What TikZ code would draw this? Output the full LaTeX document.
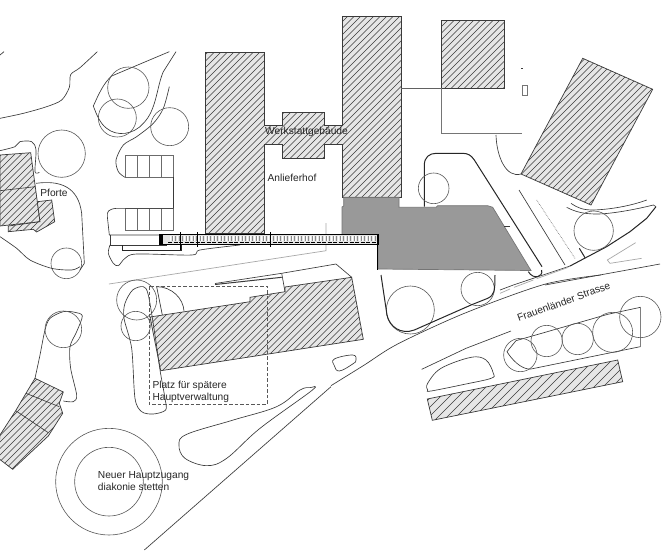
\documentclass[tikz,border=0pt]{standalone}
\usepackage{fontspec}
\setmainfont{Liberation Sans}
\definecolor{hbg}{HTML}{E6E6E6}
\definecolor{ink}{HTML}{3A3A3A}
\definecolor{greyb}{HTML}{999999}
\definecolor{pale}{HTML}{A8A8A8}
\tikzset{
 ln/.style={draw=ink,line width=0.65pt},
 blk/.style={draw=black!85,line width=1pt},
 pl/.style={draw=pale,line width=0.7pt},
 tree/.style={draw=ink!85,line width=0.6pt},
 zA/.style={shift={(0,0)},scale=0.33333},
 zB/.style={shift={(331,0)},scale=0.33333},
 zC/.style={shift={(0,275)},scale=0.33333},
 zD/.style={shift={(331,275)},scale=0.33333},
 zE/.style={shift={(500,190)},scale=0.33333},
 lab/.style={inner sep=0pt,font=\fontsize{10.2}{12}\selectfont,text=black!85},
}
\newcommand{\hatchpoly}[2][6.5]{%
 \begin{scope}
  \clip #2;
  \fill[hbg] (0,0) rectangle (662,550);
  \foreach \i in {0,#1,...,1260}{\draw[draw=ink,line width=0.55pt] (\i,0) -- (\i-620,620);}
 \end{scope}
 \draw[draw=ink,line width=0.7pt] #2;
}
\begin{document}
\begin{tikzpicture}[x=1pt,y=-1pt]
\useasboundingbox[fill=white] (0,0) rectangle (662,550);
% buildings
\hatchpoly{(205,52)--(264,52)--(264,125)--(282,125)--(282,112)--(324,112)--(324,125)--(342,125)--(342,16)--(401,16)--(401,197)--(342,197)--(342,144)--(324,144)--(324,158)--(282,158)--(282,144)--(264,144)--(264,233)--(205,233)--cycle}
\hatchpoly{(441.7,20.7)--(504.3,20.7)--(504.3,88.3)--(441.7,88.3)--cycle}
\hatchpoly{(582.7,58.3)--(652.7,89.3)--(591,205)--(521,174)--cycle}
\hatchpoly{(150,317)--(250,301.7)--(250,297.3)--(285,291.7)--(285,287)--(351.7,277.3)--(363.3,339.3)--(160.7,370.7)--cycle}
\hatchpoly{(0,155)--(30.7,152.7)--(40,221.7)--(0,226)--cycle}
\hatchpoly{(37.3,201.7)--(51.7,200)--(54.7,221.7)--(36.7,232)--(33.3,229.3)--(8.3,231.7)--(8.3,226)--(40,221.7)--cycle}
\hatchpoly[9]{(427.3,399)--(617.7,360)--(622.7,381.7)--(432.3,420.3)--cycle}
\hatchpoly{(35,378.3)--(63.3,392)--(59.3,403.3)--(62.7,413.3)--(48.3,436)--(12.7,469.3)--(-2,458)--(0,435)--(15.7,410.7)--(26,393.3)--cycle}
\draw[ln] (0,190.7)--(35,186.7);
\draw[ln] (26,393.3)--(59.3,406.7);
\draw[ln] (15.7,410.7)--(48.3,432.7);
% grey building
\filldraw[fill=greyb,draw=ink!70,line width=0.7pt] (343.7,197.3)--(399,197.3)--(399,207.3)--(436,207.3)--(437.7,205.7)--(487.7,205.7)--(492.7,207.3)--(531,270.5)--(378,269)--(378,235)--(342,235)--(342,207)--(343.7,206)--cycle;
% north-east lines
\begin{scope}[zB]
 \draw[draw=ink!80,line width=1.1pt] (209,265)--(330,265);
 \draw[draw=ink!70,line width=0.7pt] (330,265)--(330,400)--(572,400);
 \draw[ln] (495,405) .. controls (497,470) and (525,535) .. (570,522);
 \draw[ln,draw=ink!70] (574,255) rectangle (590,285);
 \draw[ln] (571,205)--(575,205);
 \draw[blk] (280,620)--(280,495) .. controls (280,472) and (295,460) .. (315,460)--(395,460) .. controls (410,460) and (420,465) .. (430,480)--(633,800);
 \draw[tree] (308,565) circle (46);
 \draw[ln] (520,680)--(536,680);
\end{scope}
% parking and west roads
\begin{scope}[zA]
 \draw[ln] (0,165)--(12,155);
 \draw[ln] plot[smooth] coordinates {(292,155)(240,203)(212,224)(208,262)(185,300)(140,320)(70,340)(0,355)};
 \draw[ln] (508,155)--(335,228) .. controls (310,250) and (295,285) .. (280,318) .. controls (290,345) and (300,370) .. (320,385) .. controls (350,410) and (400,405) .. (430,370) .. controls (470,330) and (470,260) .. (490,215)--(528,155);
 \draw[ln] plot[smooth] coordinates {(508,260)(490,325)(460,370)(410,410)(370,435)(348,480)(355,515)(375,532)};
 \draw[pl,draw=ink!75] (377,465) rectangle (521,532);
 \draw[pl,draw=ink!75] (377,625) rectangle (521,692);
 \foreach \x in {412,448,484} {\draw[pl,draw=ink!75] (\x,465)--(\x,532);\draw[pl,draw=ink!75] (\x,625)--(\x,692);}
 \draw[ln] (521,532)--(521,625);
 \draw[ln] (521,625)--(350,625) .. controls (325,627) and (320,635) .. (322,650)--(328,705)--(545,705);
 \draw[ln] (330,705)--(330,735)--(500,735);
 \draw[ln] plot[smooth] coordinates {(330,735)(325,760)(340,790)(355,797)(375,775)(410,762)(575,765)(600,750)(720,735)};
 \draw[blk] (367,735)--(367,750)--(545,750)--(545,735);
 % trees
 \draw[tree] (385,263) circle (62);
 \draw[tree] (352,354) circle (57);
 \draw[tree] (509,380) circle (57);
 \draw[tree] (185,461) circle (71);
 \draw[tree] (199,790) circle (46);
 % Pforte roads
 \draw[ln] plot[smooth] coordinates {(0,452)(45,440)(60,425)(95,425)(108,450)(105,515)(118,517)};
 \draw[ln] (108,550) .. controls (180,540) and (235,560) .. (245,640)--(253,790)--(240,810);
 \draw[ln] plot[smooth] coordinates {(0,710)(50,745)(90,780)(155,805)(215,810)(240,800)};
\end{scope}
\draw[pl] (109,284)--(326,250.7)--(326,223);
\draw[ln] (215,283.5)--(281.7,273.3)--(336,264)--(351.7,277.3);
\draw[draw=ink,line width=1pt] (215,284.5)--(281.7,277.3);
\draw[ln] (281.7,273.3)--(285,291.7);
% conveyor
\fill[black!10] (160,234.3) rectangle (378,244.3);
\draw[draw=black,line width=1.3pt] (160,234.3)--(378,234.3)--(378,244.3)--(160,244.3)--cycle;
\draw[draw=black,line width=0.7pt,dash pattern=on 4pt off 1.5pt] (168,242)--(376,242);
\foreach \x in {170,173.5,...,376} {\draw[draw=white,line width=1pt] (\x,236)--(\x,240.5);\draw[draw=ink!60,line width=0.4pt] (\x+1.7,236)--(\x+1.7,240.5);}
\fill[black] (160,234) rectangle (162.5,244.5);
\draw[draw=black,line width=1.1pt] (180.3,232)--(180.3,250);
\draw[draw=black,line width=1.1pt] (197.7,232)--(197.7,247);
\draw[draw=black,line width=1.1pt] (270.3,232)--(270.3,247);
\draw[draw=black,line width=1.1pt] (377.5,245)--(377.5,270);
% south-west
\begin{scope}[zC]
 \draw[ln] plot[smooth] coordinates {(105,310)(120,240)(135,165)(150,130)(190,110)(225,112)(247,123)(230,170)(210,215)(212,280)(230,360)(220,380)(190,378)};
 \draw[tree] (190,163) circle (55);
 \draw[ln] plot[smooth cycle] coordinates {(430,35)(398,45)(375,85)(372,130)(395,220)(405,370)(425,410)(460,417)(497,405)(495,370)(480,285)(465,180)(445,60)};
 \draw[tree] (410,75) circle (60);
 \draw[tree] (407,153) circle (44);
 \draw[ln] (470,35)--(487,120);
 \draw[ln] (470,35) .. controls (515,35) and (550,70) .. (552,108);
 \draw[ln] plot[smooth cycle,tension=0.6] coordinates {(930,338)(900,345)(830,395)(700,435)(560,478)(537,510)(555,550)(620,572)(680,550)(780,460)(936,346)};
 \draw[ln] (433,825)--(993,335);
 \draw[tree] (327,620) circle (160);
 \draw[tree] (327,620) circle (103);
\end{scope}
\draw[draw=ink!85,line width=0.7pt,dash pattern=on 3.5pt off 2pt] (149,286) rectangle (267,404);
% south-east
\begin{scope}[zD]
 \draw[ln] plot[smooth cycle,tension=0.7] coordinates {(10,252)(65,240)(75,255)(65,267)(25,288)(10,272)};
 \draw[ln] plot[smooth] coordinates {(0,332)(100,270)(200,207)(400,115)(640,28)(810,0)};
 \draw[ln] (272,283)--(405,220)--(540,168);
 \draw[ln] plot[smooth cycle,tension=0.6] coordinates {(290,345)(290,325)(330,280)(420,247)(465,255)(487,295)(480,310)(400,328)(300,348)};
 \draw[ln] (528,230)--(555,197)--(830,118)--(928,97)--(928,215)--(600,282) .. controls (570,285) and (540,250) .. (528,230);
 \draw[tree] (238,105) circle (72);
 \draw[tree] (440,42) circle (50);
 \draw[tree] (568,240) circle (50);
 \draw[tree] (647,198) circle (47);
 \draw[tree] (740,192) circle (47);
 \draw[tree] (845,172) circle (60);
 \draw[tree] (928,126) circle (62);
 \draw[blk] (150,0)--(168,120) .. controls (175,155) and (210,180) .. (250,165)--(420,90)--(470,70) .. controls (490,60) and (492,50) .. (492,0);
\end{scope}
% east road
\begin{scope}[zE]
 \draw[blk] (125,240) .. controls (130,262) and (100,270) .. (85,245);
 \draw[ln] (57,0)--(195,225);
 \draw[ln,densely dotted,draw=ink!70] (110,30)--(225,205);
 \draw[ln] (0,300)--(40,285)--(210,228);
 \draw[pl] (0,310)--(30,297); \draw[pl] (42,292)--(100,270); \draw[pl] (110,266)--(205,232);
 \draw[blk] (210,228)--(320,170)--(390,125)--(440,85)--(468,50);
 \draw[ln] (468,50)--(460,45) .. controls (400,60) and (330,72) .. (290,72) .. controls (250,72) and (225,65) .. (200,52);
 \draw[ln] (213,40) .. controls (235,55) and (250,60) .. (280,60) .. controls (340,58) and (400,45) .. (440,30);
 \draw[tree] (281,122) circle (59);
 \draw[blk] (238,175)--(255,203);
 \draw[pl] (407,158)--(322,210)--(330,220)--(425,205);
 \draw[ln] (135,285)--(480,222);
\end{scope}
% labels
\node[lab] (werk) at (306.5,132) {Werkstattgebäude};
\node[lab] (hof) at (292,178) {Anlieferhof};
\node[lab] (pforte) at (54,192.7) {Pforte};
\node[lab,align=left,anchor=west] (platz) at (152.3,392) {Platz für spätere\\Hauptverwaltung};
\node[lab,align=left,anchor=west] (neu) at (97.7,481.5) {Neuer Hauptzugang\\diakonie stetten};
\node[lab,rotate=20] (str) at (563.7,301.7) {Frauenländer Strasse};
\end{tikzpicture}
\end{document}
